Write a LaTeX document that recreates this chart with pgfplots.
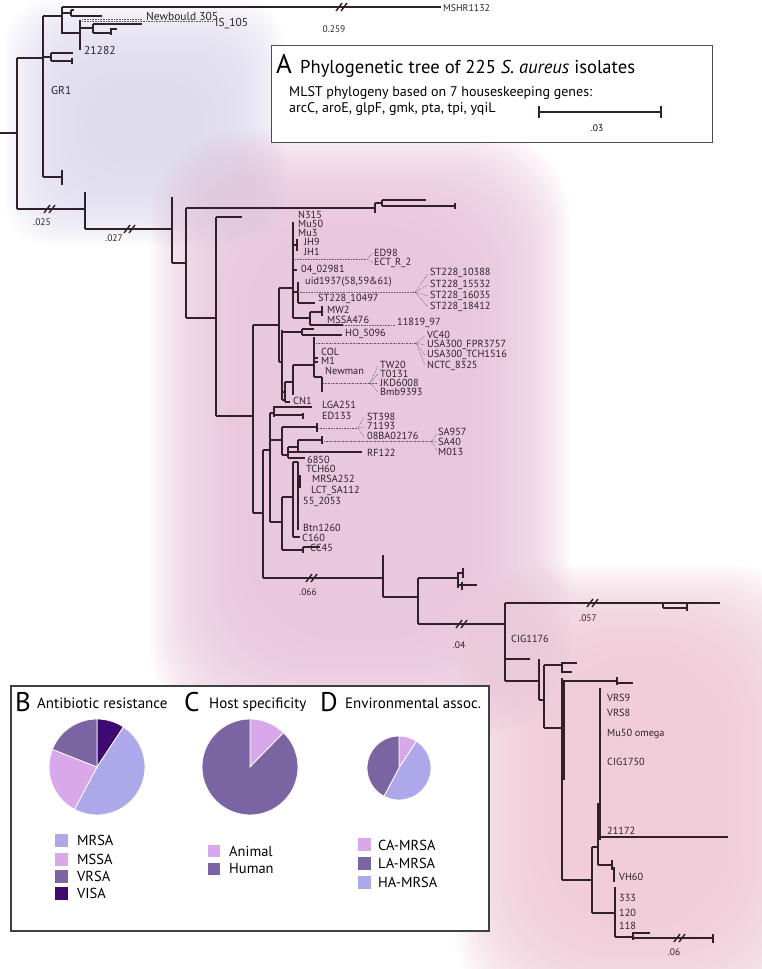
\documentclass[border=0pt]{standalone}
\usepackage{pgfplots}
\pgfplotsset{compat=1.18}
\usepackage{fontspec}
\setmainfont{PT Sans}
\setsansfont{PT Sans}
\definecolor{tc}{RGB}{48,32,42}
\definecolor{MRSAc}{RGB}{172,168,234}
\definecolor{MSSAc}{RGB}{216,168,234}
\definecolor{VRSAc}{RGB}{122,100,162}
\definecolor{VISAc}{RGB}{62,10,114}
\definecolor{pinkbg}{RGB}{232,196,218}
\definecolor{lavbg}{RGB}{221,218,237}
\definecolor{rosebg}{RGB}{239,202,214}
\pgfplotsset{tree/.style={tc, line width=1.4pt, line cap=butt},
  dots/.style={tc!75, line width=0.6pt, densely dotted}}
\newcommand{\Tr}[1]{\addplot[tree] coordinates {#1};}
\newcommand{\Dt}[1]{\addplot[dots] coordinates {#1};}
\newcommand{\blob}[7]{% x1 y1 x2 y2 colour step corner : 36 nested soft layers
  \pgfplotsinvokeforeach{0,...,35}{\fill[#5, fill opacity=0.08, rounded corners=#7pt] (axis cs:{#1+#6*##1},{#2+#6*##1}) rectangle (axis cs:{#3-#6*##1},{#4-#6*##1});}}
\newcommand{\lab}{\fontsize{10.3}{11}\selectfont\color{tc}}
\newcommand{\TL}[3]{\node[anchor=west, inner sep=0pt, font=\lab] at (#1,#2) {#3};}
\newcommand{\slice}[6]{% cx cy r startpct endpct color
  \pgfmathsetmacro\aS{90-3.6*#4}\pgfmathsetmacro\aE{90-3.6*#5}%
  \fill[#6, draw=white, line width=0.8pt] (#1,#2) -- ++(\aS:#3pt) arc[start angle=\aS, end angle=\aE, radius=#3pt] -- cycle;}
\begin{document}
\begin{tikzpicture}
\begin{axis}[width=762pt, height=969pt, scale only axis, xmin=0, xmax=762, ymin=0, ymax=969, y dir=reverse, hide axis, clip=true]
\coordinate (O) at (axis cs:0,0);
% backgrounds
\blob{5}{0}{285}{245}{lavbg}{2.5}{45}
\blob{150}{130}{570}{735}{pinkbg}{3}{90}
\blob{455}{565}{820}{1020}{rosebg}{3}{90}
% ---- top-left clade
\Tr{(0,133)(17,133)} \Tr{(17,58)(17,209)} \Tr{(17,58)(43,58)} \Tr{(17,209)(85,209)}
\Tr{(43,16)(43,177)} \Tr{(43,177)(62,177)} \Tr{(62,170)(62,185)}
\Tr{(43,57)(51,57)} \Tr{(51,53)(51,61)} \Tr{(51,53)(73,53)} \Tr{(51,61)(72,61)} \Tr{(72,58)(72,64)}
\Tr{(43,16)(62,16)} \Tr{(62,7)(62,34)} \Tr{(62,7)(441,7)}
\Tr{(62,13)(71,13)} \Tr{(71,10)(71,16)} \Tr{(71,10)(74,10)} \Tr{(71,16)(102,16)}
\Tr{(62,33)(80,33)} \Tr{(80,20)(80,50)}
\Tr{(80,28)(93,28)} \Tr{(93,24)(93,33)} \Tr{(93,24)(142,24)} \Tr{(93,33)(111,33)} \Tr{(111,28)(111,35)} \Tr{(111,29)(117,29)}
\Dt{(82,19)(142,19)} \Dt{(82,21)(213,21)}
% ---- pink clade
\Tr{(85,192)(85,229)} \Tr{(85,229)(172,229)} \Tr{(172,197)(172,263)} \Tr{(172,263)(186,263)}
\Tr{(186,208)(186,318)} \Tr{(186,208)(375,208)} \Tr{(375,203)(375,213)}
\Tr{(375,203)(382,203)} \Tr{(382,200)(382,206)} \Tr{(382,200)(426,200)} \Tr{(382,206)(455,206)} \Tr{(455,203)(455,209)}
\Tr{(186,318)(216,318)}
\Tr{(216,217)(216,416)} \Tr{(216,217)(242,217)} \Tr{(216,416)(253,416)}
\Tr{(253,325)(253,513)} \Tr{(253,513)(263,513)}
\Tr{(253,325)(279,325)} \Tr{(279,288)(279,362)} \Tr{(279,288)(293,288)} \Tr{(293,222)(293,318)}
\Tr{(297,239)(297,251)} \Tr{(293,245)(297,245)} \Tr{(293,270)(297,270)}
\Tr{(298,282)(298,303)} \Tr{(293,292)(298,292)} \Tr{(298,303)(315,303)}
\Tr{(293,318)(310,318)} \Tr{(310,312)(310,325)} \Tr{(310,312)(322,312)} \Tr{(322,306)(322,316)} \Tr{(310,325)(343,325)}
\Dt{(295,259)(367,259)} \Dt{(367,259)(373,253)} \Dt{(367,259)(373,263)}
\Dt{(298,292)(415,292)} \Dt{(415,292)(428,274)} \Dt{(415,292)(428,285)} \Dt{(415,292)(428,296)} \Dt{(415,292)(428,307)}
\Dt{(343,325)(395,325)}
\Tr{(279,362)(282,362)} \Tr{(282,330)(282,400)} \Tr{(282,332)(302,332)} \Tr{(302,329)(302,335)} \Tr{(302,329)(314,329)} \Tr{(302,335)(342,335)}
\Tr{(282,392)(285,392)} \Tr{(285,382)(285,402)} \Tr{(285,382)(293,382)}
\Tr{(293,365)(293,395)} \Tr{(293,365)(314,365)} \Tr{(314,337)(314,377)} \Tr{(314,358)(318,358)} \Tr{(314,362)(318,362)}
\Tr{(314,377)(322,377)} \Tr{(322,377)(322,392)}
\Dt{(316,343)(416,343)} \Dt{(416,343)(425,336)} \Dt{(416,343)(425,345)} \Dt{(416,343)(425,355)} \Dt{(416,343)(425,365)}
\Dt{(323,383)(370,383)} \Dt{(370,383)(378,366)} \Dt{(370,383)(378,374)} \Dt{(370,383)(378,383)} \Dt{(370,383)(378,392)}
\Tr{(285,402)(290,402)} \Tr{(282,400)(285,400)}
\Tr{(263,450)(263,578)} \Tr{(263,450)(270,450)} \Tr{(270,413)(270,522)}
\Tr{(270,413)(274,413)} \Tr{(274,406)(274,417)} \Tr{(274,407)(312,407)} \Tr{(274,415)(303,415)} \Tr{(303,413)(303,419)}
\Tr{(270,440)(282,440)} \Tr{(282,427)(282,455)} \Tr{(282,427)(317,427)} \Tr{(317,423)(317,432)} \Tr{(282,455)(288,455)}
\Tr{(288,447)(288,458)} \Tr{(288,447)(298,447)} \Tr{(298,440)(298,452)} \Tr{(298,440)(322,440)} \Tr{(322,436)(322,444)} \Tr{(288,452)(362,452)} \Tr{(288,458)(305,458)}
\Dt{(318,428)(358,428)} \Dt{(358,428)(364,417)} \Dt{(358,428)(364,427)} \Dt{(358,428)(364,437)}
\Dt{(324,441)(432,441)} \Dt{(432,441)(437,433)} \Dt{(432,441)(437,442)} \Dt{(432,441)(437,451)}
\Tr{(270,522)(282,522)} \Tr{(282,497)(282,550)} \Tr{(282,497)(293,497)} \Tr{(293,462)(293,537)} \Tr{(293,462)(298,462)}
\Tr{(298,462)(298,530)} \Tr{(300,475)(300,488)} \Tr{(298,479)(301,479)} \Tr{(298,486)(301,486)} \Tr{(293,537)(300,537)}
\Tr{(282,550)(303,550)} \Tr{(303,547)(303,553)} \Tr{(303,547)(320,547)}
\Tr{(263,578)(383,578)} \Tr{(383,555)(383,597)} \Tr{(383,597)(418,597)} \Tr{(418,578)(418,624)} \Tr{(418,578)(458,578)}
\Tr{(458,572)(458,588)} \Tr{(458,573)(463,573)} \Tr{(463,568)(463,578)} \Tr{(458,585)(477,585)} \Tr{(462,582)(462,590)}
\Tr{(418,624)(505,624)}
% ---- right clade
\Tr{(505,603)(505,681)} \Tr{(505,603)(720,603)} \Tr{(663,603)(663,608)} \Tr{(663,608)(687,608)} \Tr{(687,604)(687,611)}
\Tr{(505,659)(530,659)} \Tr{(505,681)(539,681)}
\Tr{(539,659)(539,700)} \Tr{(539,700)(544,700)} \Tr{(544,665)(544,728)} \Tr{(544,665)(562,665)}
\Tr{(562,662)(562,673)} \Tr{(562,663)(577,663)} \Tr{(562,672)(572,672)}
\Tr{(544,728)(562,728)} \Tr{(562,678)(562,880)} \Tr{(564,680)(564,780)}
\Tr{(563,681)(617,681)} \Tr{(617,677)(617,685)} \Tr{(617,683)(633,683)}
\Tr{(562,880)(592,880)} \Tr{(592,847)(592,913)} \Tr{(592,847)(598,847)} \Tr{(598,803)(598,865)} \Tr{(600,688)(600,840)} \Tr{(600,837)(728,837)}
\Tr{(598,865)(612,865)} \Tr{(612,860)(612,870)} \Tr{(614,867)(614,882)}
\Tr{(592,913)(615,913)} \Tr{(615,887)(615,937)} \Tr{(615,937)(633,937)} \Tr{(633,932)(633,940)} \Tr{(633,933)(650,933)} \Tr{(633,938)(713,938)} \Tr{(713,934)(713,943)}
% ---- break marks
\Tr{(336,11)(342,3)} \Tr{(341,11)(347,3)}
\Tr{(44,213)(50,205)} \Tr{(49,213)(55,205)}
\Tr{(124,233)(130,225)} \Tr{(129,233)(135,225)}
\Tr{(306,582)(312,574)} \Tr{(311,582)(317,574)}
\Tr{(456,628)(462,620)} \Tr{(461,628)(467,620)}
\Tr{(587,607)(593,599)} \Tr{(592,607)(598,599)}
\Tr{(674,942)(680,934)} \Tr{(679,942)(685,934)}
\end{axis}
\pgfresetboundingbox
\useasboundingbox (O) rectangle ++(762pt,-969pt);
\begin{scope}[shift={(O)}, x=1pt, y=-1pt]
% tree labels
\TL{146}{16}{\fontsize{11.5}{12}\selectfont Newbould 305}
\TL{215}{24}{\fontsize{11.5}{12}\selectfont IS\_105}
\TL{84}{50}{\fontsize{11.5}{12}\selectfont 21282}
\TL{51}{90}{\fontsize{11.5}{12}\selectfont GR1}
\TL{443}{8}{\fontsize{9.8}{10}\selectfont MSHR1132}
\node[font=\lab\fontsize{9.5}{10}\selectfont] at (334,29) {0.259};
\node[font=\lab\fontsize{9.5}{10}\selectfont] at (42,222) {.025};
\node[font=\lab\fontsize{9.5}{10}\selectfont] at (114,238) {.027};
\node[font=\lab\fontsize{9.5}{10}\selectfont] at (308,592) {.066};
\node[font=\lab\fontsize{9.5}{10}\selectfont] at (459,645) {.04};
\node[font=\lab\fontsize{9.5}{10}\selectfont] at (588,618) {.057};
\node[font=\lab\fontsize{9.5}{10}\selectfont] at (674,952) {.06};
\TL{298}{215}{N315} \TL{298}{224}{Mu50} \TL{298}{233}{Mu3} \TL{304}{242}{JH9} \TL{304}{252}{JH1}
\TL{374}{253}{ED98} \TL{374}{263}{ECT\_R\_2}
\TL{301}{270}{04\_02981} \TL{305}{282}{uid1937(58,59\&61)}
\TL{430}{273}{ST228\_10388} \TL{430}{285}{ST228\_15532} \TL{430}{296}{ST228\_16035} \TL{430}{307}{ST228\_18412}
\TL{318}{299}{ST228\_10497} \TL{327}{310}{MW2} \TL{327}{320}{MSSA476} \TL{397}{323}{11819\_97}
\TL{345}{334}{HO\_5096}
\TL{427}{335}{VC40} \TL{427}{345}{USA300\_FPR3757} \TL{427}{355}{USA300\_TCH1516} \TL{427}{366}{NCTC\_8325}
\TL{321}{352}{COL} \TL{321}{361}{M1} \TL{325}{371}{Newman}
\TL{380}{365}{TW20} \TL{380}{374}{T0131} \TL{380}{383}{JKD6008} \TL{380}{392}{Bmb9393}
\TL{293}{401}{CN1} \TL{322}{405}{LGA251} \TL{322}{416}{ED133}
\TL{367}{417}{ST398} \TL{367}{426}{71193} \TL{367}{436}{08BA02176}
\TL{438}{432}{SA957} \TL{438}{442}{SA40} \TL{438}{452}{M013}
\TL{367}{453}{RF122} \TL{307}{460}{6850}
\TL{306}{469}{TCH60} \TL{312}{479}{MRSA252} \TL{311}{491}{LCT\_SA112} \TL{303}{502}{55\_2053}
\TL{303}{528}{Btn1260} \TL{302}{538}{C160} \TL{310}{548}{CC45}
\TL{511}{639}{CIG1176}
\TL{607}{698}{VRS9} \TL{607}{713}{VRS8} \TL{607}{734}{Mu50 omega} \TL{607}{762}{CIG1750}
\TL{607}{831}{21172} \TL{619}{877}{VH60} \TL{619}{898}{333} \TL{619}{913}{120} \TL{619}{926}{118}
% panel A
\draw[black!70, line width=1pt, fill=white] (271,46) rectangle (712,143);
\node[anchor=base west, inner sep=0pt, font=\fontsize{27}{27}\selectfont] at (276,74) {A};
\node[anchor=base west, inner sep=0pt, font=\fontsize{18.6}{18}\selectfont] at (300,74) {Phylogenetic tree of 225 \textit{S. aureus} isolates};
\node[anchor=base west, inner sep=0pt, font=\fontsize{14}{14}\selectfont] at (289,97) {MLST phylogeny based on 7 houseskeeping genes:};
\node[anchor=base west, inner sep=0pt, font=\fontsize{14}{14}\selectfont] at (289,113) {arcC, aroE, glpF, gmk, pta, tpi, yqiL};
\draw[tc, line width=1.4pt] (539,112) -- (661,112) (539,106) -- (539,118) (661,106) -- (661,118);
\node[font=\fontsize{9.5}{10}\selectfont] at (597,128) {.03};
% panel B-D
\draw[black!75, line width=1.2pt, fill=white] (11,686) rectangle (489,931);
\node[anchor=base west, inner sep=0pt, font=\fontsize{27}{27}\selectfont] at (15,712) {B};
\node[anchor=base west, inner sep=0pt, font=\fontsize{15}{15}\selectfont] at (37,709) {Antibiotic resistance};
\node[anchor=base west, inner sep=0pt, font=\fontsize{27}{27}\selectfont] at (184,712) {C};
\node[anchor=base west, inner sep=0pt, font=\fontsize{15}{15}\selectfont] at (209,709) {Host specificity};
\node[anchor=base west, inner sep=0pt, font=\fontsize{27}{27}\selectfont] at (320,712) {D};
\node[anchor=base west, inner sep=0pt, font=\fontsize{15}{15}\selectfont] at (345,709) {Environmental assoc.};
% pies: start/end in percent, clockwise from top
\slice{97}{767}{48}{0}{9.3}{VISAc}
\slice{97}{767}{48}{9.3}{57.8}{MRSAc}
\slice{97}{767}{48}{57.8}{81}{MSSAc}
\slice{97}{767}{48}{81}{100}{VRSAc}
\slice{250}{767}{48}{0}{12.3}{MSSAc}
\slice{250}{767}{48}{12.3}{100}{VRSAc}
\slice{399}{768}{32}{0}{9.2}{MSSAc}
\slice{399}{768}{32}{9.2}{57.8}{MRSAc}
\slice{399}{768}{32}{57.8}{100}{VRSAc}
% legends
\fill[MRSAc] (55,834) rectangle (68,847); \fill[MSSAc] (55,853) rectangle (68,866);
\fill[VRSAc] (55,870) rectangle (68,883); \fill[VISAc] (55,887) rectangle (68,900);
\node[anchor=west, inner sep=0pt, font=\fontsize{14.5}{14}\selectfont] at (77,840) {MRSA};
\node[anchor=west, inner sep=0pt, font=\fontsize{14.5}{14}\selectfont] at (77,859) {MSSA};
\node[anchor=west, inner sep=0pt, font=\fontsize{14.5}{14}\selectfont] at (77,876) {VRSA};
\node[anchor=west, inner sep=0pt, font=\fontsize{14.5}{14}\selectfont] at (77,893) {VISA};
\fill[MSSAc] (208,845) rectangle (220,857); \fill[VRSAc] (208,863) rectangle (220,875);
\node[anchor=west, inner sep=0pt, font=\fontsize{14.5}{14}\selectfont] at (229,851) {Animal};
\node[anchor=west, inner sep=0pt, font=\fontsize{14.5}{14}\selectfont] at (229,869) {Human};
\fill[MSSAc] (358,838) rectangle (371,851); \fill[VRSAc] (358,857) rectangle (371,870); \fill[MRSAc] (358,876) rectangle (371,889);
\node[anchor=west, inner sep=0pt, font=\fontsize{14.5}{14}\selectfont] at (378,845) {CA-MRSA};
\node[anchor=west, inner sep=0pt, font=\fontsize{14.5}{14}\selectfont] at (378,863) {LA-MRSA};
\node[anchor=west, inner sep=0pt, font=\fontsize{14.5}{14}\selectfont] at (378,882) {HA-MRSA};
\end{scope}
\end{tikzpicture}
\end{document}
